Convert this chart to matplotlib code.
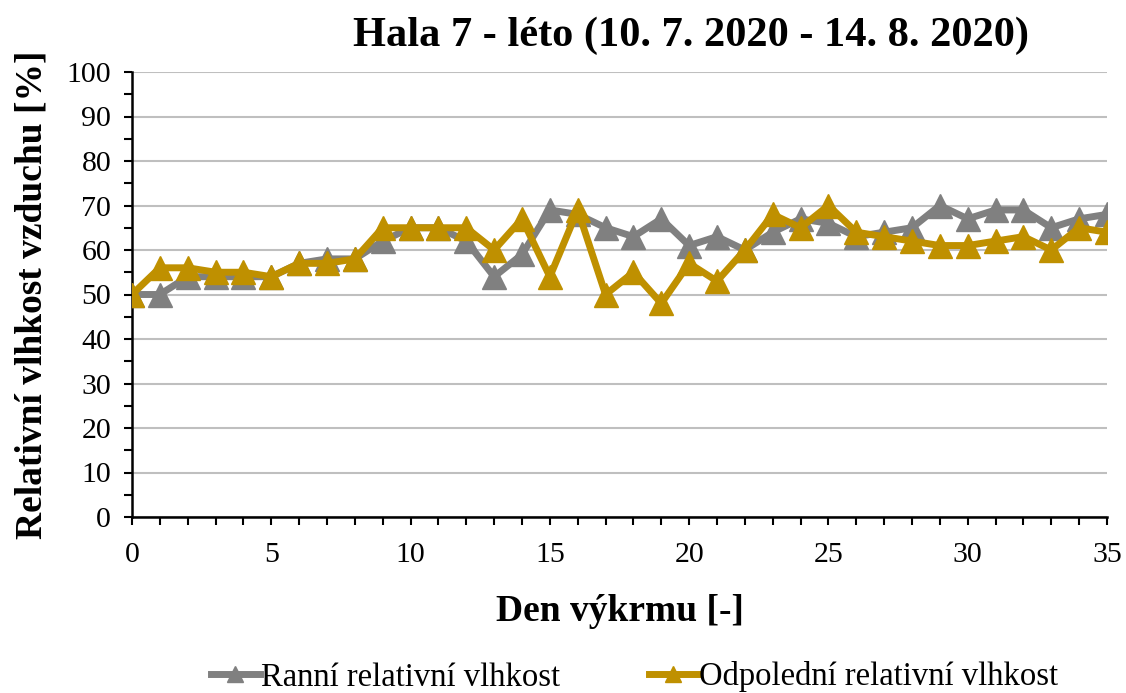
import matplotlib.pyplot as plt
from matplotlib.ticker import MultipleLocator
import numpy as np

# data
days = list(range(0, 36))
ranni = [50, 50, 54, 54, 54, 54, 57, 58, 58, 62, 65, 65, 62, 54, 59, 69, 68, 65,
         63, 67, 61, 63, 60, 64, 67, 66, 63, 64, 65, 70, 67, 69, 69, 65, 67, 68]
odpoledni = [50, 56, 56, 55, 55, 54, 57, 57, 58, 65, 65, 65, 65, 60, 67, 54, 69, 50,
             55, 48, 57, 53, 60, 68, 65, 70, 64, 63, 62, 61, 61, 62, 63, 60, 65, 64]

title = 'Hala 7 - léto (10. 7. 2020 - 14. 8. 2020)'
xlabel = 'Den výkrmu [-]'
ylabel = 'Relativní vlhkost vzduchu [%]'
labels = ['Ranní relativní vlhkost', 'Odpolední relativní vlhkost']

plt.rcParams['font.family'] = ['Liberation Serif', 'DejaVu Serif']

fig = plt.figure(figsize=(11.26, 6.93), dpi=100)
ax = fig.add_axes([132 / 1126, 1 - 517 / 693, 975 / 1126, 445 / 693])

ax.plot(days, ranni, color='#808080', lw=5, marker='^', ms=17,
        label=labels[0], zorder=3)
ax.plot(days, odpoledni, color='#BF9000', lw=5, marker='^', ms=17,
        label=labels[1], zorder=4)

ax.set_xlim(0, 35)
ax.set_ylim(0, 100)
ax.xaxis.set_major_locator(MultipleLocator(5))
ax.xaxis.set_minor_locator(MultipleLocator(1))
ax.yaxis.set_major_locator(MultipleLocator(10))
ax.yaxis.set_minor_locator(MultipleLocator(5))
ax.tick_params(which='both', direction='out', length=6, width=1.5, labelsize=21.5)
ax.tick_params(axis='x', pad=12)
ax.tick_params(axis='y', pad=9)
ax.grid(axis='y', which='major', color='#BFBFBF', lw=1.5, zorder=0)
ax.set_axisbelow(True)
for s in ['top', 'right']:
    ax.spines[s].set_visible(False)
for s in ['left', 'bottom']:
    ax.spines[s].set_linewidth(1.8)

ax.set_xlabel(xlabel, fontsize=27, fontweight='bold', labelpad=19)
ax.set_ylabel(ylabel, fontsize=27, fontweight='bold', labelpad=12)
fig.text(691 / 1126, 1 - 36 / 693, title, fontsize=30.5, fontweight='bold',
         ha='center', va='center')

fig.legend(loc='center', bbox_to_anchor=(0.5635, 1 - 677 / 693), ncol=2,
           frameon=False, fontsize=23.5, handlelength=1.5, handletextpad=0.05,
           columnspacing=2.7, markerscale=0.7)

plt.savefig('out.png', dpi=100)
